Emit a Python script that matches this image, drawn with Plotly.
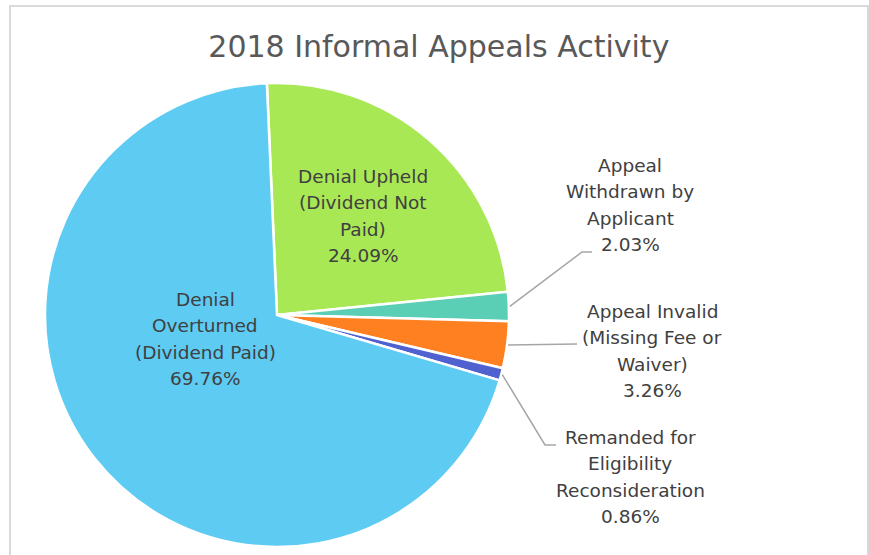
import math

import plotly.graph_objects as go

W, H = 869, 555

categories = [
    "Denial Upheld (Dividend Not Paid)",
    "Appeal Withdrawn by Applicant",
    "Appeal Invalid (Missing Fee or Waiver)",
    "Remanded for Eligibility Reconsideration",
    "Denial Overturned (Dividend Paid)",
]
values = [24.09, 2.03, 3.26, 0.86, 69.76]
label_lines = [
    ["Denial Upheld", "(Dividend Not", "Paid)"],
    ["Appeal", "Withdrawn by", "Applicant"],
    ["Appeal Invalid", "(Missing Fee or", "Waiver)"],
    ["Remanded for", "Eligibility", "Reconsideration"],
    ["Denial", "Overturned", "(Dividend Paid)"],
]
colors = ["#A9E855", "#5BCFB5", "#FF8021", "#4F62CF", "#5DCBF2"]

TEXT_COLOR = "#404040"
LEADER_COLOR = "#A6A6A6"
FONT = "DejaVu Sans"
ROTATION = -2.5

# pie placement in pixels
CX, CY, R = 277, 315, 232

# label centres (px) and leader elbows (px) -- layout only
label_pos = [(363, 216), (630, 205), (652, 351), (630, 477), (205, 339)]
elbows = [None, [(582, 252), (592, 252)], [(577, 344)], [(545, 445), (556, 445)], None]

fig = go.Figure()
fig.add_trace(go.Pie(
    labels=categories,
    values=values,
    sort=False,
    direction="clockwise",
    rotation=ROTATION,
    marker=dict(colors=colors, line=dict(color="white", width=2.5)),
    textinfo="none",
    hoverinfo="label+percent",
    showlegend=False,
    domain=dict(x=[(CX - R) / W, (CX + R) / W], y=[1 - (CY + R) / H, 1 - (CY - R) / H]),
))


def px(x, y):
    return x / W, 1 - y / H


total = sum(values)
cum = 0.0
LINE_H = 26.5
for i, (lines, val) in enumerate(zip(label_lines, values)):
    mid = ROTATION + 360 * (cum + val / 2) / total
    cum += val
    all_lines = lines + [f"{val:.2f}%"]
    lx, ly = label_pos[i]
    n = len(all_lines)
    for k, t in enumerate(all_lines):
        yy = ly + (k - (n - 1) / 2) * LINE_H
        ax, ay = px(lx, yy)
        fig.add_annotation(
            x=ax, y=ay, xref="paper", yref="paper", text=t, showarrow=False,
            xanchor="center", yanchor="middle",
            font=dict(family=FONT, size=18.5, color=TEXT_COLOR),
        )
    if elbows[i]:
        a = math.radians(mid)
        sx = CX + (R + 1) * math.sin(a)
        sy = CY - (R + 1) * math.cos(a)
        pts = [(sx, sy)] + elbows[i]
        path = "M " + " L ".join(f"{px(x, y)[0]},{px(x, y)[1]}" for x, y in pts)
        fig.add_shape(type="path", path=path, xref="paper", yref="paper",
                      line=dict(color=LEADER_COLOR, width=1.5))

# chart border
fig.add_shape(type="rect", xref="paper", yref="paper",
              x0=10 / W, x1=868 / W, y0=-0.05, y1=1 - 6 / H,
              line=dict(color="#D9D9D9", width=2))

fig.update_layout(
    width=W, height=H,
    margin=dict(l=0, r=0, t=0, b=0),
    paper_bgcolor="white",
    plot_bgcolor="white",
    title=dict(text="2018 Informal Appeals Activity", x=0.505, xanchor="center",
               y=1 - 46 / H, yanchor="middle",
               font=dict(family=FONT, size=30, color="#595959")),
)

fig.write_html("out.html", config={"displayModeBar": False},
               post_script="document.body.style.margin='0';")
